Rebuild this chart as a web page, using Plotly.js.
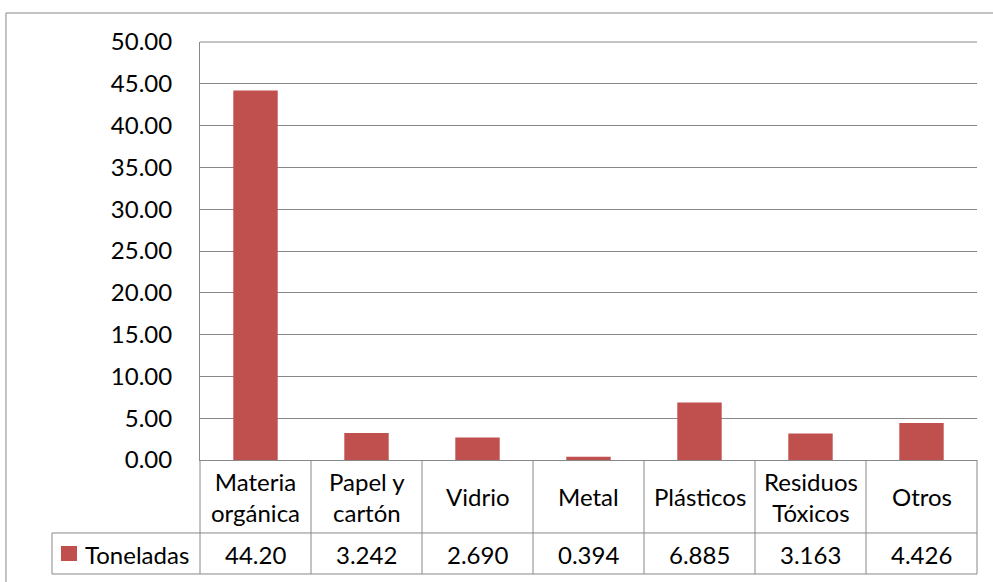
<!DOCTYPE html>
<html>
<head>
<meta charset="utf-8">
<script src="https://cdn.plot.ly/plotly-3.0.1.min.js"></script>
<style>html,body{margin:0;padding:0;background:#fff;}#chart{width:993px;height:582px;}</style>
</head>
<body>
<div id="chart"></div>
<script>
var categories = ["Materia<br>orgánica", "Papel y<br>cartón", "Vidrio", "Metal", "Plásticos", "Residuos<br>Tóxicos", "Otros"];
var values = [44.20, 3.242, 2.690, 0.394, 6.885, 3.163, 4.426];
var valueLabels = ["44.20", "3.242", "2.690", "0.394", "6.885", "3.163", "4.426"];
var seriesName = "Toneladas";
var yTicks = [0, 5, 10, 15, 20, 25, 30, 35, 40, 45, 50];

var FONT = "Lato, 'Liberation Sans', sans-serif";
var FS = 24;
var LINE = "#888888";
var BAR = "#C0504D";

var N = categories.length;
var xIdx = categories.map(function (c, i) { return i; });

// paper-coordinate positions of table elements
var headerY = -0.0885, rowLineY = -0.1746, bottomY = -0.2727, dataY = -0.2249;
var tableLeft = -0.1905;

var shapes = [];
function line(x0, y0, x1, y1) {
  shapes.push({type: "line", xref: "paper", yref: "paper", x0: x0, y0: y0, x1: x1, y1: y1,
    line: {color: LINE, width: 1}});
}
// top edge of plot (50.00 line)
line(0, 1, 1, 1);
// vertical separators of the data table
for (var k = 0; k <= N; k++) line(k / N, 0, k / N, bottomY);
// horizontal table lines
line(tableLeft, rowLineY, 1, rowLineY);
line(tableLeft, bottomY, 1, bottomY);
line(tableLeft, rowLineY, tableLeft, bottomY);
// legend key
shapes.push({type: "rect", xref: "paper", yref: "paper", x0: -0.1789, x1: -0.1583, y0: -0.2416, y1: -0.2057,
  fillcolor: BAR, line: {width: 0}});
// outer chart border
shapes.push({type: "rect", xref: "paper", yref: "paper", x0: -0.2497, x1: 1.2, y0: -0.5, y1: 1.0694,
  fillcolor: "rgba(0,0,0,0)", line: {color: LINE, width: 1}});

var annotations = [];
categories.forEach(function (c, i) {
  annotations.push({xref: "x", yref: "paper", x: i, y: headerY, text: c, showarrow: false,
    xanchor: "center", yanchor: "middle", font: {family: FONT, size: FS, color: "#000"}});
  annotations.push({xref: "x", yref: "paper", x: i, y: dataY, text: valueLabels[i], showarrow: false,
    xanchor: "center", yanchor: "middle", font: {family: FONT, size: FS, color: "#000"}});
});
annotations.push({xref: "paper", yref: "paper", x: -0.1506, y: dataY, text: seriesName, showarrow: false,
  xanchor: "left", yanchor: "middle", font: {family: FONT, size: FS, color: "#000"}});

var trace = {
  type: "bar", x: xIdx, y: values, name: seriesName,
  marker: {color: BAR, line: {width: 0}},
  hoverinfo: "y"
};

var layout = {
  width: 993, height: 582,
  margin: {l: 200, r: 16, t: 42, b: 122, pad: 0},
  paper_bgcolor: "#fff", plot_bgcolor: "#fff",
  showlegend: false,
  bargap: 0.6,
  font: {family: FONT, size: FS, color: "#000"},
  xaxis: {
    type: "linear", range: [-0.5, N - 0.5], showticklabels: false, showgrid: false,
    zeroline: false, showline: true, linecolor: LINE, linewidth: 1, ticks: "", fixedrange: true
  },
  yaxis: {
    range: [0, 50], tickvals: yTicks, tickformat: ".2f", showgrid: true, gridcolor: LINE, gridwidth: 1,
    zeroline: false, showline: true, linecolor: LINE, linewidth: 1, ticks: "",
    ticklabelstandoff: 22, tickfont: {family: FONT, size: FS, color: "#000"}, fixedrange: true
  },
  shapes: shapes,
  annotations: annotations
};

Plotly.newPlot("chart", [trace], layout, {displayModeBar: false, staticPlot: true});
</script>
</body>
</html>
